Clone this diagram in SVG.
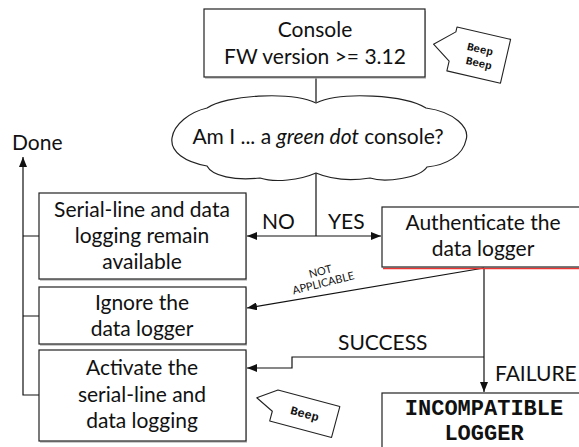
<svg xmlns="http://www.w3.org/2000/svg" width="579" height="447" viewBox="0 0 579 447">
<defs>
<style>
.box{fill:#fff;stroke:#222;stroke-width:1.2}
.shadow{fill:#aaa;stroke:none;opacity:.6}
.t{font-family:Lato,"Open Sans","DejaVu Sans",sans-serif;font-size:21px;fill:#111;text-anchor:middle}
.lbl{font-family:Lato,"Open Sans","DejaVu Sans",sans-serif;font-size:21px;fill:#111}
.mono{font-family:"Liberation Mono","DejaVu Sans Mono",monospace;font-weight:bold;fill:#111;text-anchor:middle}
.ln{fill:none;stroke:#111;stroke-width:1.2}
.call{fill:#fff;stroke:#222;stroke-width:1.1;stroke-linejoin:round}
</style>
<marker id="ah" viewBox="0 0 10 8" refX="10" refY="4" markerWidth="10" markerHeight="8" markerUnits="userSpaceOnUse" orient="auto">
<path d="M0,0 L10,4 L0,8 Z" fill="#111"/>
</marker>
</defs>
<rect width="579" height="447" fill="#fff"/>

<g id="connectors">
<line class="ln" x1="316" y1="78" x2="316" y2="102"/>
<line class="ln" x1="316" y1="173" x2="316" y2="236"/>
<line class="ln" x1="316" y1="236" x2="247" y2="236" marker-end="url(#ah)"/>
<line class="ln" x1="316" y1="236" x2="381" y2="236" marker-end="url(#ah)"/>
<line class="ln" x1="484" y1="268" x2="247" y2="308" marker-end="url(#ah)"/>
<line class="ln" x1="484" y1="268" x2="484" y2="392" marker-end="url(#ah)"/>
<path class="ln" d="M484,357 H292 V368 H247" marker-end="url(#ah)"/>
<path class="ln" d="M39,395 H23 V157" marker-end="url(#ah)"/>
<path class="ln" d="M39,236 H23 M39,316 H23" stroke="#666"/>
<text class="lbl" x="262" y="229">NO</text>
<text class="lbl" x="328" y="229">YES</text>
<text class="lbl" x="338" y="350">SUCCESS</text>
<text class="lbl" x="495" y="381">FAILURE</text>
<g transform="translate(322,278) rotate(-14)" font-family="Lato,'Open Sans',sans-serif" font-size="11" fill="#111" text-anchor="middle">
<text x="0" y="-3">NOT</text>
<text x="0" y="9">APPLICABLE</text>
</g>
<text class="lbl" x="12" y="150" font-size="22">Done</text>
</g>

<g id="console">
<rect class="shadow" x="205" y="11" width="221" height="68"/>
<rect class="box" x="204" y="9" width="221" height="68"/>
<text class="t" x="315" y="37" font-size="22">Console</text>
<text class="t" x="315" y="64" font-size="22">FW version &gt;= 3.12</text>
</g>

<g id="beep-beep" transform="translate(457,27) rotate(13)">
<path class="call" d="M0,0 L55,0 L55,45 L0,45 L0,35 L-19,22 L0,5 Z"/>
<text class="mono" x="27.5" y="20" font-size="11">Beep</text>
<text class="mono" x="29.5" y="34" font-size="11">Beep</text>
</g>

<g id="cloud">
<path fill="#fff" stroke="#222" stroke-width="1.2" d="M207,108 C225,95 290,91 316,103 C342,91 405,95 426,108 C455,112 470,128 466,140 C463,155 447,165 427,167 C420,178 385,183 370,178 C350,181 330,179 316,173 C300,180 275,183 260,178 C235,181 212,176 207,166 C185,162 170,152 172,138 C174,124 190,112 207,108 Z"/>
<text class="t" x="318" y="144" font-size="23">Am I ... a <tspan font-style="italic">green dot</tspan> console?</text>
</g>

<g id="serial-available">
<rect class="shadow" x="40" y="194" width="207" height="87"/>
<rect class="box" x="39" y="193" width="207" height="86"/>
<text class="t" x="142" y="217">Serial-line and data</text>
<text class="t" x="142" y="243">logging remain</text>
<text class="t" x="142" y="269">available</text>
</g>

<g id="ignore">
<rect class="shadow" x="40" y="288" width="207" height="58"/>
<rect class="box" x="39" y="287" width="207" height="57"/>
<text class="t" x="142" y="310">Ignore the</text>
<text class="t" x="142" y="336">data logger</text>
</g>

<g id="activate">
<rect class="shadow" x="40" y="351" width="207" height="92"/>
<rect class="box" x="39" y="350" width="207" height="91"/>
<text class="t" x="142" y="375">Activate the</text>
<text class="t" x="142" y="402">serial-line and</text>
<text class="t" x="142" y="428">data logging</text>
</g>

<g id="authenticate">
<line x1="383" y1="268.5" x2="579" y2="268.5" stroke="#e33" stroke-width="1.5"/>
<rect class="box" x="382" y="207" width="203" height="60"/>
<text class="t" x="483" y="230">Authenticate the</text>
<text class="t" x="483" y="256">data logger</text>
</g>

<g id="incompatible">
<rect class="box" x="382" y="393" width="210" height="60"/>
<text class="mono" x="484" y="415" font-size="22">INCOMPATIBLE</text>
<text class="mono" x="484" y="440" font-size="22">LOGGER</text>
</g>

<g id="beep" transform="translate(278,390) rotate(15)">
<path class="call" d="M0,0 L64,0 L64,32 L0,32 L0,22 L-18.5,13 Z"/>
<text class="mono" x="32" y="20" font-size="12">Beep</text>
</g>
</svg>
